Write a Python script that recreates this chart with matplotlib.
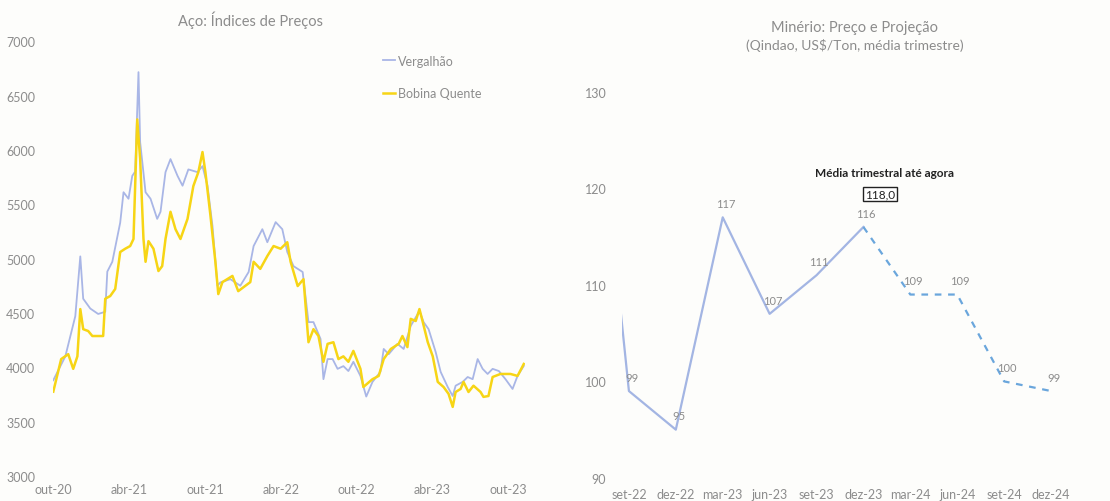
import numpy as np
import matplotlib.pyplot as plt
import pandas as pd
import matplotlib.dates as mdates

plt.rcParams['font.family'] = ['Lato', 'DejaVu Sans']

# --- Aço: índices de preços ---
verg_dates = ['2020-10-01', '2020-10-30', '2020-11-23', '2020-12-05', '2020-12-12', '2020-12-29',
              '2021-01-17', '2021-02-03', '2021-02-08', '2021-02-20', '2021-03-11', '2021-03-19',
              '2021-03-31', '2021-04-09', '2021-04-16', '2021-04-24', '2021-04-28', '2021-05-11',
              '2021-05-23', '2021-06-08', '2021-06-16', '2021-06-28', '2021-07-10', '2021-07-27',
              '2021-08-08', '2021-08-22', '2021-09-13', '2021-09-25', '2021-10-07', '2021-10-19',
              '2021-10-31', '2021-11-07', '2021-12-01', '2021-12-25', '2022-01-14', '2022-01-26',
              '2022-02-16', '2022-02-28', '2022-03-20', '2022-04-05', '2022-04-17', '2022-05-02',
              '2022-05-24', '2022-06-07', '2022-06-19', '2022-07-06', '2022-07-13', '2022-07-23',
              '2022-08-04', '2022-08-16', '2022-08-30', '2022-09-11', '2022-09-23', '2022-10-10',
              '2022-10-24', '2022-11-08', '2022-11-27', '2022-12-05', '2022-12-17', '2023-01-07',
              '2023-01-22', '2023-02-08', '2023-03-01', '2023-03-11', '2023-03-23', '2023-04-09',
              '2023-04-21', '2023-05-08', '2023-05-20', '2023-05-27', '2023-06-13', '2023-06-25',
              '2023-07-07', '2023-07-19', '2023-07-31', '2023-08-12', '2023-08-24', '2023-09-08',
              '2023-09-24', '2023-10-11', '2023-10-23', '2023-11-07']
verg_vals = [3880, 4100, 4470, 5020, 4630, 4540,
             4490, 4510, 4880, 4970, 5330, 5610,
             5550, 5760, 5800, 6715, 6070, 5610,
             5550, 5365, 5430, 5795, 5915, 5760,
             5670, 5820, 5795, 5850, 5670, 5300,
             4750, 4780, 4810, 4750, 4876, 5115,
             5270, 5150, 5335, 5270, 5060, 4930,
             4876, 4415, 4415, 4260, 3890, 4075,
             4075, 3985, 4010, 3965, 4050, 3920,
             3730, 3865, 3957, 4168, 4120, 4215,
             4168, 4380, 4517, 4415, 4350, 4140,
             3957, 3818, 3735, 3830, 3865, 3910,
             3890, 4075, 3985, 3938, 3985, 3965,
             3890, 3800, 3920, 4012]

bq_dates = ['2020-10-01', '2020-10-20', '2020-11-06', '2020-11-18', '2020-11-28', '2020-12-05',
            '2020-12-12', '2020-12-24', '2021-01-03', '2021-01-29', '2021-02-03', '2021-02-15',
            '2021-02-27', '2021-03-11', '2021-03-23', '2021-04-04', '2021-04-12', '2021-04-21',
            '2021-04-28', '2021-05-06', '2021-05-11', '2021-05-18', '2021-05-30', '2021-06-11',
            '2021-06-20', '2021-06-28', '2021-07-10', '2021-07-22', '2021-08-03', '2021-08-20',
            '2021-09-03', '2021-09-15', '2021-09-25', '2021-10-02', '2021-10-14', '2021-10-26',
            '2021-11-02', '2021-11-12', '2021-12-06', '2021-12-20', '2022-01-18', '2022-01-26',
            '2022-02-11', '2022-02-28', '2022-03-15', '2022-04-01', '2022-04-17', '2022-04-25',
            '2022-05-12', '2022-05-26', '2022-06-07', '2022-06-19', '2022-07-01', '2022-07-13',
            '2022-07-23', '2022-08-06', '2022-08-18', '2022-08-30', '2022-09-11', '2022-09-23',
            '2022-10-10', '2022-10-17', '2022-11-08', '2022-11-23', '2022-12-05', '2022-12-22',
            '2023-01-10', '2023-01-19', '2023-01-31', '2023-02-08', '2023-02-20', '2023-03-01',
            '2023-03-09', '2023-03-21', '2023-04-02', '2023-04-14', '2023-04-28', '2023-05-10',
            '2023-05-20', '2023-05-27', '2023-06-08', '2023-06-15', '2023-06-27', '2023-07-09',
            '2023-07-26', '2023-08-02', '2023-08-14', '2023-08-24', '2023-09-12', '2023-10-06',
            '2023-10-23', '2023-11-07']
bq_vals = [3775, 4075, 4120, 3985, 4100, 4535,
           4350, 4333, 4287, 4287, 4630, 4655,
           4720, 5060, 5090, 5115, 5180, 6280,
           5915, 5180, 4970, 5160, 5090, 4885,
           4930, 5180, 5430, 5270, 5180, 5365,
           5667, 5795, 5980, 5795, 5400, 4970,
           4673, 4783, 4840, 4700, 4783, 4970,
           4905, 5023, 5115, 5090, 5150, 4970,
           4747, 4810, 4230, 4350, 4287, 4050,
           4215, 4230, 4075, 4100, 4050, 4150,
           3985, 3818, 3890, 3920, 4075, 4168,
           4215, 4287, 4185, 4445, 4425, 4535,
           4415, 4230, 4100, 3865, 3818, 3755,
           3635, 3772, 3800, 3865, 3772, 3830,
           3772, 3727, 3735, 3910, 3938, 3938,
           3920, 4030]

aco_ticks = ['2020-10-01', '2021-04-01', '2021-10-01', '2022-04-01', '2022-10-01', '2023-04-01', '2023-10-01']
aco_ticklabels = ['out-20', 'abr-21', 'out-21', 'abr-22', 'out-22', 'abr-23', 'out-23']

# --- Minério: preço e projeção ---
trimestres = ['set-22', 'dez-22', 'mar-23', 'jun-23', 'set-23', 'dez-23', 'mar-24', 'jun-24', 'set-24', 'dez-24']
trim_anterior = 146          # jun-22, cortado pela borda do gráfico
realizado = [99, 95, 117, 107, 111, 116]
projecao = [116, 109, 109, 100, 99]
media_atual = 118.0

grey = '#8c8c8c'
c_verg = '#a9b6e6'
c_bq = '#f7d515'
c_real = '#a3b5e3'
c_proj = '#6aa6dc'

fig = plt.figure(figsize=(11.1, 5.02), dpi=100)
fig.patch.set_facecolor('#fdfdfb')

ax = fig.add_axes([0.048, 0.050, 0.425, 0.866])
ax.set_facecolor('#fdfdfb')
ax.plot(pd.to_datetime(verg_dates), verg_vals, color=c_verg, lw=1.3, label='Vergalhão')
ax.plot(pd.to_datetime(bq_dates), bq_vals, color=c_bq, lw=1.8, label='Bobina Quente')
ax.set_ylim(3000, 7000)
ax.set_xlim(pd.Timestamp('2020-10-01'), pd.Timestamp('2023-11-10'))
ax.set_yticks(np.arange(3000, 7001, 500))
ax.set_xticks(pd.to_datetime(aco_ticks))
ax.set_xticklabels(aco_ticklabels)
ax.tick_params(length=0, colors=grey, labelsize=9)
ax.tick_params(axis='y', pad=13)
ax.tick_params(axis='x', pad=5)
for s in ax.spines.values():
    s.set_visible(False)
ax.legend(loc='upper left', bbox_to_anchor=(0.675, 0.995), frameon=False, fontsize=9,
          handlelength=1.0, handletextpad=0.2, labelspacing=1.65, labelcolor=grey)
fig.text(0.226, 0.96, 'Aço: Índices de Preços', ha='center', va='center', color=grey, fontsize=10.5)

ax2 = fig.add_axes([0.560, 0.046, 0.408, 0.769])
ax2.set_facecolor('#fdfdfb')
xr = np.arange(-1, len(realizado))
ax2.plot(xr, [trim_anterior] + realizado, color=c_real, lw=1.6)
xp = np.arange(len(realizado) - 1, len(realizado) - 1 + len(projecao))
ax2.plot(xp, projecao, color=c_proj, lw=1.6, ls=(0, (3, 3)))
for i, v in enumerate(realizado + projecao[1:]):
    ax2.annotate(f'{v}', (i, v), xytext=(2, 6), textcoords='offset points',
                 ha='center', va='bottom', color=grey, fontsize=8)
ax2.set_xlim(-0.156, 9.5)
ax2.set_ylim(90, 130)
ax2.set_yticks([90, 100, 110, 120, 130])
ax2.set_xticks(range(len(trimestres)))
ax2.set_xticklabels(trimestres)
ax2.tick_params(length=0, colors=grey, labelsize=9)
ax2.tick_params(axis='y', pad=11)
ax2.tick_params(axis='x', pad=7)
for s in ax2.spines.values():
    s.set_visible(False)

fig.text(0.770, 0.944, 'Minério: Preço e Projeção', ha='center', va='center', color=grey, fontsize=10.5)
fig.text(0.770, 0.910, '(Qindao, US$/Ton, média trimestre)', ha='center', va='center', color=grey, fontsize=10)
fig.text(0.797, 0.655, 'Média trimestral até agora', ha='center', va='center', color='#222222',
         fontsize=8.5, fontweight='bold')
fig.text(0.793, 0.612, f'{media_atual:.1f}'.replace('.', ','), ha='center', va='center', color='#222222',
         fontsize=8.5, bbox=dict(boxstyle='square,pad=0.15', fc='white', ec='#222222', lw=1))

fig.savefig('out.png', dpi=100)
